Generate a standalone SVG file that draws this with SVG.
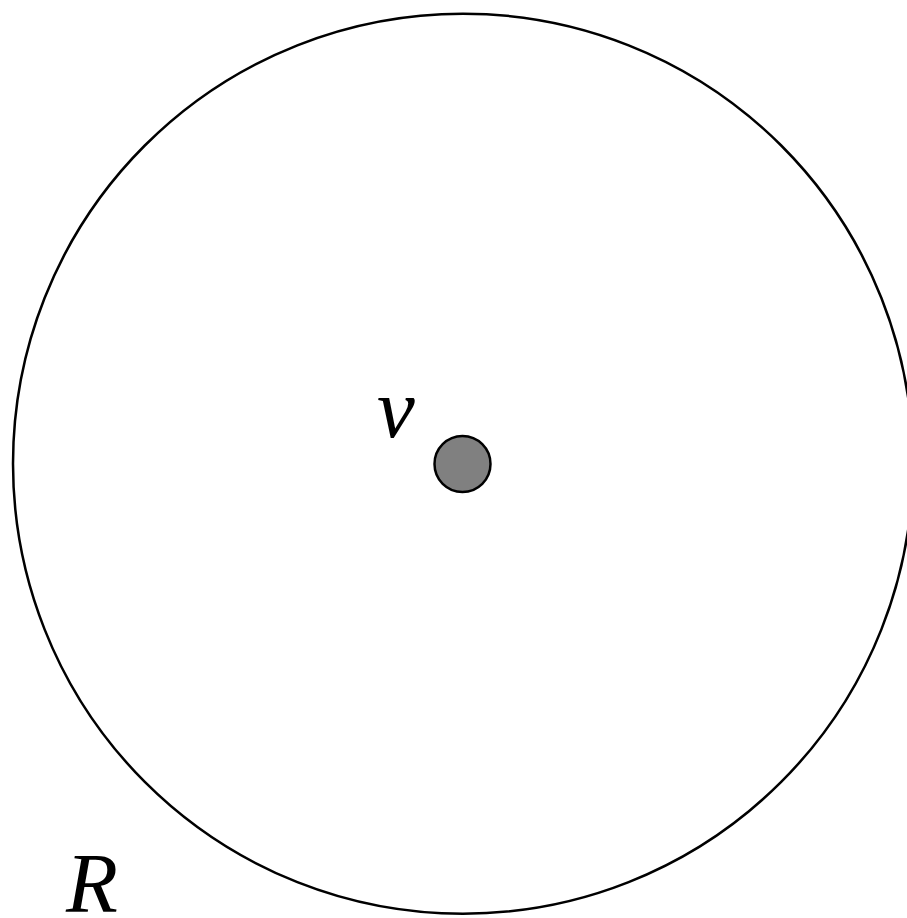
<svg xmlns="http://www.w3.org/2000/svg" width="907" height="918" viewBox="0 0 907 918">
<rect width="907" height="918" fill="#fff"/>
<g id="region">
<circle cx="463" cy="463.7" r="450" fill="none" stroke="#000" stroke-width="2.5"/>
<text x="66" y="912" style="font-family:'Liberation Serif','Times New Roman',serif;font-style:italic;font-size:85px">R</text>
</g>
<g id="v">
<circle cx="462.5" cy="464" r="28" fill="#808080" stroke="#000" stroke-width="2.5"/>
<text x="377" y="437" style="font-family:'Liberation Serif','Times New Roman',serif;font-style:italic;font-size:85px">v</text>
</g>
<g id="connectors"/>
</svg>
